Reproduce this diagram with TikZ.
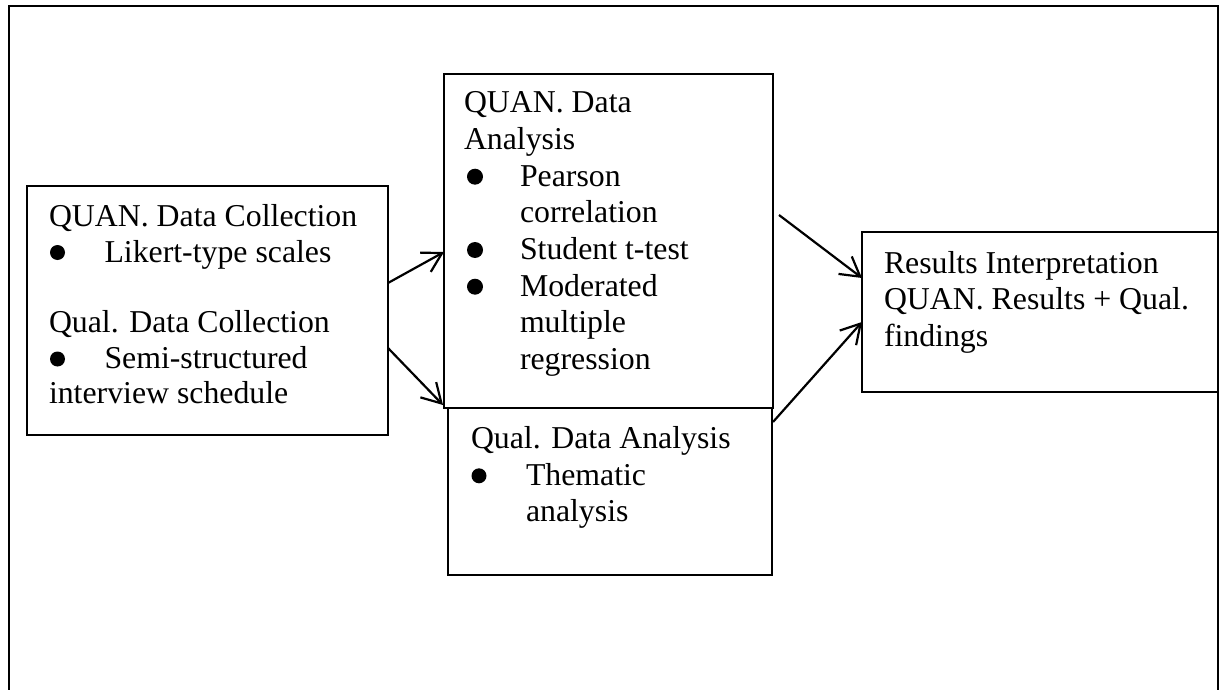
\documentclass[tikz,border=0pt]{standalone}
\usepackage{fontspec}
\setmainfont{Liberation Serif}
\usetikzlibrary{arrows.meta}
\tikzset{
  box/.style={draw, line width=2.1pt, anchor=north west, inner sep=0pt, outer sep=0pt},
  txt/.style={anchor=base west, inner sep=0pt, outer sep=0pt, font=\fontsize{31.8pt}{36.6pt}\selectfont},
  arr/.style={line width=2.2pt, -{Straight Barb[length=19pt, width=22pt, line width=2.2pt]}},
  bul/.style={fill=black}
}
\begin{document}
\begin{tikzpicture}[x=1pt, y=-1pt]
\useasboundingbox (0,0) rectangle (1224,690);
% outer frame
\draw[line width=2.8pt] (9,690) -- (9,6) -- (1218,6) -- (1218,690);
% boxes
\node[box, minimum width=361pt, minimum height=249pt] (b1) at (27,186) {};
\node[box, minimum width=329pt, minimum height=334pt] (b2) at (444,74) {};
\node[box, minimum width=324pt, minimum height=167pt] (b3) at (448,408) {};
\node[box, minimum width=356pt, minimum height=160pt] (b4) at (862,232) {};
% box 1 text
\node[txt] (t11) at (49,226.7) {QUAN. Data Collection};
\node[txt] (t12) at (104.5,262) {Likert-type scales};
\node[txt] (t13) at (49,332.5) {Qual. Data Collection};
\node[txt] (t14) at (104.5,368.3) {Semi-structured};
\node[txt] (t15) at (49,403.8) {interview schedule};
\fill[bul] (57.5,252.5) circle[radius=7.5pt];
\fill[bul] (57.5,359) circle[radius=7.5pt];
% box 2 text
\node[txt] (t21) at (464,112.8) {QUAN. Data};
\node[txt] (t22) at (464,149.5) {Analysis};
\node[txt] (t23) at (520,186.2) {Pearson};
\node[txt] (t24) at (520,222.9) {correlation};
\node[txt] (t25) at (520,259.6) {Student t-test};
\node[txt] (t26) at (520,296) {Moderated};
\node[txt] (t27) at (520,332.7) {multiple};
\node[txt] (t28) at (520,369.4) {regression};
\fill[bul] (475,176.7) circle[radius=8pt];
\fill[bul] (475,250) circle[radius=8pt];
\fill[bul] (475,286.7) circle[radius=8pt];
% box 3 text
\node[txt] (t31) at (471,448.5) {Qual. Data Analysis};
\node[txt] (t32) at (526,485) {Thematic};
\node[txt] (t33) at (526,521.5) {analysis};
\fill[bul] (479,475.8) circle[radius=7.5pt];
% box 4 text
\node[txt] (t41) at (884,273) {Results Interpretation};
\node[txt] (t42) at (884,309.5) {QUAN. Results + Qual.};
\node[txt] (t43) at (884,346) {findings};
% arrows
\draw[arr] ([yshift=27.5pt]b1.east) -- ([yshift=-11pt]b2.west);
\draw[arr] ([yshift=-37.5pt]b1.east) -- ([shift={(-1pt,3pt)}]b2.south west);
\draw[arr] ([shift={(6pt,26pt)}]b2.east) -- ([yshift=34pt]b4.west);
\draw[arr] ([shift={(1pt,69.5pt)}]b3.east) -- ([yshift=-10pt]b4.west);
\end{tikzpicture}
\end{document}
